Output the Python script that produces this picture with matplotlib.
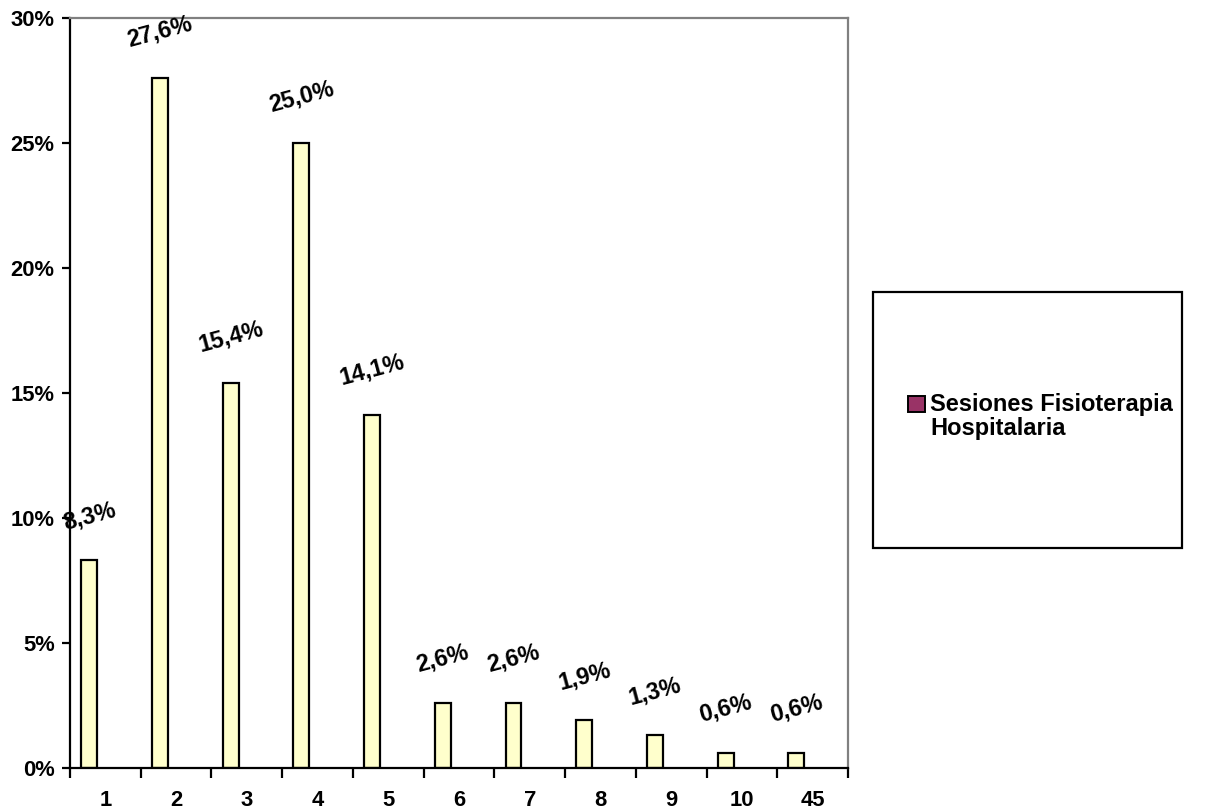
import matplotlib
matplotlib.use("Agg")
import matplotlib.pyplot as plt
from matplotlib.patches import Rectangle
import numpy as np

plt.rcParams['font.family'] = ['Liberation Sans', 'DejaVu Sans']
plt.rcParams['font.weight'] = 'bold'

# data
categorias = ["1", "2", "3", "4", "5", "6", "7", "8", "9", "10", "45"]
porcentajes = [8.3, 27.6, 15.4, 25.0, 14.1, 2.6, 2.6, 1.9, 1.3, 0.6, 0.6]
etiquetas = ["8,3%", "27,6%", "15,4%", "25,0%", "14,1%", "2,6%", "2,6%",
             "1,9%", "1,3%", "0,6%", "0,6%"]
serie = "Sesiones Fisioterapia\nHospitalaria"
y_ticks = [0, 5, 10, 15, 20, 25, 30]

fig = plt.figure(figsize=(12.15, 8.1), dpi=100)
ax = fig.add_axes([0.0576, 0.0519, 0.6404, 0.9259])

x = np.arange(len(categorias))
bars = ax.bar(x - 0.23, porcentajes, width=0.225, color="#FFFFCC",
              edgecolor="black", linewidth=1.6)

for xi, v, lab in zip(x, porcentajes, etiquetas):
    ax.annotate(lab, (xi - 0.23, v), xytext=(0, 19), textcoords="offset points",
                ha="center", va="bottom", rotation=15, fontsize=16.8,
                fontweight="bold")

ax.set_xlim(-0.5, len(categorias) - 0.5)
ax.set_ylim(0, 30)
ax.set_yticks(y_ticks)
ax.set_yticklabels(["{0}%".format(t) for t in y_ticks], fontsize=15.8,
                   fontweight="bold")
ax.set_xticks(x)
ax.set_xticklabels(categorias, fontsize=15.8, fontweight="bold")
ax.set_xticks(np.arange(-0.5, len(categorias)), minor=True)
ax.tick_params(axis="x", which="major", length=0, pad=16)
ax.tick_params(axis="x", which="minor", length=7, width=1.6, direction="out")
ax.tick_params(axis="y", length=6, width=1.6, direction="out", pad=5)

for s in ["left", "bottom"]:
    ax.spines[s].set_linewidth(1.6)
    ax.spines[s].set_color("black")
for s in ["top", "right"]:
    ax.spines[s].set_linewidth(1.6)
    ax.spines[s].set_color("#808080")

# legend box
fig.patches.append(Rectangle((0.7185, 0.3235), 0.2545, 0.316,
                             transform=fig.transFigure, fill=False,
                             edgecolor="black", linewidth=1.6))
fig.patches.append(Rectangle((908 / 1215, 1 - 412 / 810), 17 / 1215, 16 / 810,
                             transform=fig.transFigure, facecolor="#993366",
                             edgecolor="black", linewidth=1.4))
fig.text(930 / 1215, 1 - 393 / 810, serie, ha="left", va="top",
         fontsize=17, fontweight="bold", linespacing=1.05)

fig.savefig("out.png", dpi=100)
